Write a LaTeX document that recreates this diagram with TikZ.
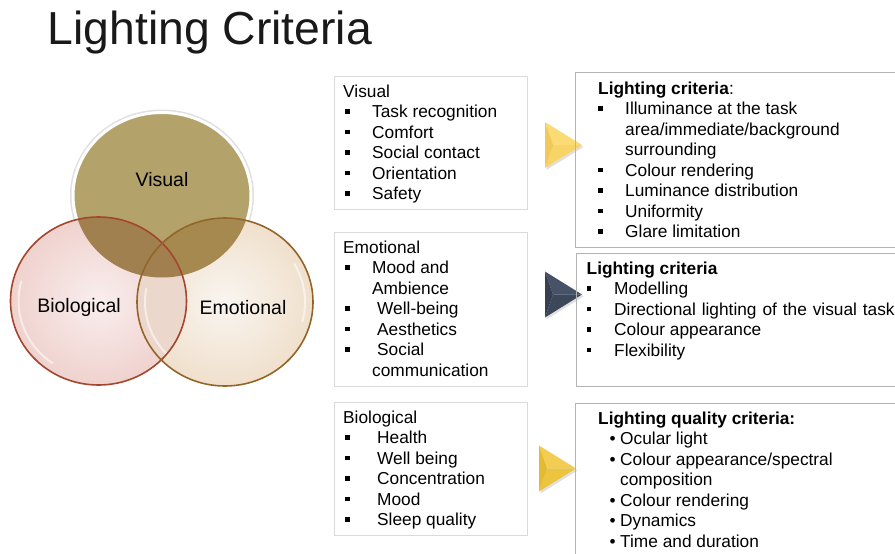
\documentclass[tikz,border=0pt]{standalone}
\usepackage{fontspec}
\setmainfont{Liberation Sans}
\usetikzlibrary{calc}

% palette
\definecolor{visfill}{HTML}{B3A36B}
\definecolor{bioin}{HTML}{F9EEEE}
\definecolor{bioout}{HTML}{EFD2CE}
\definecolor{bioline}{HTML}{A4462E}
\definecolor{emoin}{HTML}{F9F5F0}
\definecolor{emoout}{HTML}{F0E0CC}
\definecolor{emoline}{HTML}{93652A}
\definecolor{vbfill}{HTML}{A0804E}
\definecolor{vefill}{HTML}{A6894F}
\definecolor{befill}{HTML}{ECD7CC}
\definecolor{vbefill}{HTML}{A27F4F}
\definecolor{lboxline}{HTML}{DADADA}
\definecolor{rboxline}{HTML}{B4B4B4}
\definecolor{goldA}{HTML}{FBDB74}
\definecolor{goldB}{HTML}{F8D366}
\definecolor{goldC}{HTML}{F1C95A}
\definecolor{slateA}{HTML}{465267}
\definecolor{slateB}{HTML}{3C4759}
\definecolor{slateC}{HTML}{36404F}
\definecolor{deepA}{HTML}{F2CD52}
\definecolor{deepB}{HTML}{EDC43E}
\definecolor{deepC}{HTML}{E4BA35}

% list markers
\newcommand\sqitem[2]{\makebox[#1][l]{\hspace*{#2}\raisebox{4.1pt}{\rule{4.3pt}{4.3pt}}}}
\newcommand\dotitem{\makebox[22pt][l]{\hspace*{11.5pt}\textbullet}}

% three-faceted chevron: #1 shift, #2 light, #3 main, #4 dark
\newcommand\chevron[4]{%
  \begin{scope}[shift={#1}]
    \fill[black,opacity=0.12] (1.5,-21) -- (38.5,2) -- (1.5,25) -- cycle;
    \fill[#2] (0,-23) -- (37,0) -- (8,0) -- cycle;
    \fill[#3] (0,23) -- (37,0) -- (8,0) -- cycle;
    \fill[#4] (0,-23) -- (8,0) -- (0,23) -- cycle;
  \end{scope}}

\begin{document}
\begin{tikzpicture}[x=1pt,y=-1pt,
  lbox/.style={draw=lboxline,line width=0.9pt,anchor=north west,inner sep=0pt},
  rbox/.style={draw=rboxline,line width=1pt,anchor=north west,inner sep=0pt},
  listtext/.style={anchor=north west,inner sep=0pt,align=left,
    font=\fontsize{17.3}{20.5}\selectfont},
  venntext/.style={font=\fontsize{19.5}{23}\selectfont,inner sep=0pt},
  gleam/.style={white,line width=2pt,opacity=0.55,line cap=round}]

\useasboundingbox (0,0) rectangle (895,554);
\fill[white] (0,0) rectangle (895,554);

% title
\node[anchor=base west,inner sep=0pt,font=\fontsize{46.3}{50}\selectfont,text=black!90] (title) at (47.5,45) {Lighting Criteria};

% ---------- Venn diagram ----------
\coordinate (cv) at (162,195.5);
\coordinate (cb) at (98.5,301);
\coordinate (ce) at (225,302);

% visual circle with soft halo
\draw[black!12,line width=6pt] (cv) ellipse [x radius=89pt,y radius=83pt];
\fill[visfill] (cv) ellipse [x radius=89pt,y radius=83pt];
\draw[white,line width=3pt] (cv) ellipse [x radius=89pt,y radius=83pt];

% biological and emotional circles
\shade[inner color=bioin,outer color=bioout] (cb) ellipse [x radius=88pt,y radius=84pt];
\shade[inner color=emoin,outer color=emoout] (ce) ellipse [x radius=88pt,y radius=84pt];

% overlaps
\begin{scope}
  \clip (cv) ellipse [x radius=88pt,y radius=82pt];
  \fill[vbfill] (cb) ellipse [x radius=88pt,y radius=84pt];
  \fill[vefill] (ce) ellipse [x radius=88pt,y radius=84pt];
\end{scope}
\begin{scope}
  \clip (cb) ellipse [x radius=88pt,y radius=84pt];
  \fill[befill] (ce) ellipse [x radius=88pt,y radius=84pt];
  \clip (ce) ellipse [x radius=88pt,y radius=84pt];
  \fill[vbefill] (cv) ellipse [x radius=88pt,y radius=82pt];
\end{scope}

% highlights
\draw[gleam] ($(cb)+(165:80pt and 76pt)$) arc[start angle=165,end angle=235,x radius=80pt,y radius=76pt];
\draw[gleam] ($(ce)+(170:80pt and 76pt)$) arc[start angle=170,end angle=225,x radius=80pt,y radius=76pt];
\draw[gleam] ($(ce)+(-15:80pt and 76pt)$) arc[start angle=-15,end angle=30,x radius=80pt,y radius=76pt];

% rims
\draw[bioline,line width=1.6pt] (cb) ellipse [x radius=88pt,y radius=84pt];
\draw[emoline,line width=1.6pt] (ce) ellipse [x radius=88pt,y radius=84pt];

\node[venntext] (lvis) at (162,180) {Visual};
\node[venntext] (lbio) at (79,307) {Biological};
\node[venntext] (lemo) at (243,308) {Emotional};

% ---------- left column ----------
\node[lbox,minimum width=193pt,minimum height=133pt] (boxv) at (334,76) {};
\node[lbox,minimum width=193pt,minimum height=154pt] (boxe) at (334,232) {};
\node[lbox,minimum width=193pt,minimum height=133pt] (boxb) at (334,402) {};

\node[listtext] (txtv) at (343,82) {\rule{0pt}{15pt}Visual\\
  \sqitem{29pt}{2pt}Task recognition\\
  \sqitem{29pt}{2pt}Comfort\\
  \sqitem{29pt}{2pt}Social contact\\
  \sqitem{29pt}{2pt}Orientation\\
  \sqitem{29pt}{2pt}Safety};

\node[listtext] (txte) at (343,238) {\rule{0pt}{15pt}Emotional\\
  \sqitem{29pt}{2pt}Mood and\\
  \hspace*{29pt}Ambience\\
  \sqitem{34pt}{2pt}Well-being\\
  \sqitem{34pt}{2pt}Aesthetics\\
  \sqitem{34pt}{2pt}Social\\
  \hspace*{29pt}communication};

\node[listtext] (txtb) at (343,408) {\rule{0pt}{15pt}Biological\\
  \sqitem{34pt}{2pt}Health\\
  \sqitem{34pt}{2pt}Well being\\
  \sqitem{34pt}{2pt}Concentration\\
  \sqitem{34pt}{2pt}Mood\\
  \sqitem{34pt}{2pt}Sleep quality};

% ---------- chevrons ----------
\chevron{(545,145)}{goldA}{goldB}{goldC}
\chevron{(545,294.5)}{slateA}{slateB}{slateC}
\chevron{(539,468.5)}{deepA}{deepB}{deepC}

% ---------- right column ----------
\node[rbox,minimum width=330pt,minimum height=175pt] (critv) at (575,72) {};
\node[rbox,minimum width=330pt,minimum height=133pt] (crite) at (576,253) {};
\node[rbox,minimum width=330pt,minimum height=165pt] (critb) at (575,403) {};

\node[listtext] (ctxv) at (598,79) {\rule{0pt}{15pt}\textbf{Lighting criteria}:\\
  \sqitem{27pt}{0pt}Illuminance at the task\\
  \hspace*{27pt}area/immediate/background\\
  \hspace*{27pt}surrounding\\
  \sqitem{27pt}{0pt}Colour rendering\\
  \sqitem{27pt}{0pt}Luminance distribution\\
  \sqitem{27pt}{0pt}Uniformity\\
  \sqitem{27pt}{0pt}Glare limitation};

\node[listtext] (ctxe) at (586.5,259) {\rule{0pt}{15pt}\textbf{Lighting criteria}\\
  \sqitem{27.5pt}{0pt}Modelling\\
  \sqitem{27.5pt}{0pt}{\spaceskip=5.9pt Directional lighting of the visual task}\\
  \sqitem{27.5pt}{0pt}Colour appearance\\
  \sqitem{27.5pt}{0pt}Flexibility};

\node[listtext] (ctxb) at (598,409) {\rule{0pt}{15pt}\textbf{Lighting quality criteria:}\\
  \dotitem Ocular light\\
  \dotitem Colour appearance/spectral\\
  \hspace*{22pt}composition\\
  \dotitem Colour rendering\\
  \dotitem Dynamics\\
  \dotitem Time and duration};

\end{tikzpicture}
\end{document}
